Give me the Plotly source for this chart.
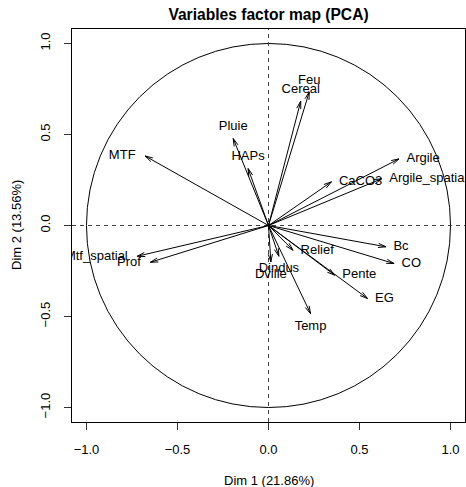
import numpy as np
import plotly.graph_objects as go

# ---------------- data ----------------
variables = ["MTF", "Pluie", "HAPs", "Feu", "Cereal", "CaCO3", "Argile",
             "Argile_spatial", "Bc", "CO", "Relief", "Pente", "EG", "Temp",
             "Dindus", "Dville", "Prof", "Mtf_spatial"]
dim1 = [-0.678, -0.194, -0.112, 0.224, 0.177, 0.346, 0.717,
        0.622, 0.645, 0.690, 0.135, 0.364, 0.544, 0.231,
        0.057, 0.013, -0.649, -0.721]
dim2 = [0.382, 0.478, 0.313, 0.734, 0.683, 0.240, 0.366,
        0.257, -0.117, -0.209, -0.136, -0.273, -0.401, -0.484,
        -0.169, -0.200, -0.202, -0.169]
tick_values = [-1.0, -0.5, 0.0, 0.5, 1.0]
chart_title = "Variables factor map (PCA)"
x_title = "Dim 1 (21.86%)"
y_title = "Dim 2 (13.56%)"

# ---------------- style / layout ----------------
W, H = 466, 487
ML, MR, MT, MB = 72, 1, 29, 65
LIM = 1.0795
ppu = (W - ML - MR) / (2 * LIM)          # pixels per data unit
FONT = "Liberation Sans, Arial, Helvetica, sans-serif"
FS = 13

label_side = {
    "MTF": "left", "Pluie": "top", "HAPs": "top", "Feu": "top", "Cereal": "top",
    "CaCO3": "right", "Argile": "right", "Argile_spatial": "right", "Bc": "right",
    "CO": "right", "Relief": "right", "Pente": "right", "EG": "right",
    "Temp": "bottom", "Dindus": "bottom", "Dville": "bottom",
    "Prof": "left", "Mtf_spatial": "left",
}
side_cfg = {
    "right": ("middle right", 7.5, 0),
    "left": ("middle left", -9.5, 0),
    "top": ("top center", 0, 5.1),
    "bottom": ("bottom center", 0, -6.4),
}

fig = go.Figure()

# arrows (shaft + open head, R style angle 15, length ~8px)
head_len = 8.0 / ppu
head_ang = np.deg2rad(15)
ax_x, ax_y = [], []
for x, y in zip(dim1, dim2):
    th = np.arctan2(y, x)
    ax_x += [0, x, None]
    ax_y += [0, y, None]
    ax_x += [x - head_len * np.cos(th - head_ang), x, x - head_len * np.cos(th + head_ang), None]
    ax_y += [y - head_len * np.sin(th - head_ang), y, y - head_len * np.sin(th + head_ang), None]
fig.add_trace(go.Scatter(x=ax_x, y=ax_y, mode="lines",
                         line=dict(color="black", width=1),
                         hoverinfo="skip", showlegend=False))

# labels
for side, (tpos, dxp, dyp) in side_cfg.items():
    idx = [i for i, v in enumerate(variables) if label_side[v] == side]
    fig.add_trace(go.Scatter(
        x=[dim1[i] + dxp / ppu for i in idx],
        y=[dim2[i] + dyp / ppu for i in idx],
        text=[variables[i] for i in idx],
        mode="text", textposition=tpos,
        textfont=dict(family=FONT, size=FS, color="black"),
        cliponaxis=True, hoverinfo="skip", showlegend=False))

shapes = [
    dict(type="circle", xref="x", yref="y", x0=-1, y0=-1, x1=1, y1=1,
         line=dict(color="black", width=1), layer="below"),
    dict(type="line", xref="x", yref="y", x0=0, x1=0, y0=-LIM, y1=LIM,
         line=dict(color="#404040", width=1, dash="4px,4px"), layer="below"),
    dict(type="line", xref="x", yref="y", x0=-LIM, x1=LIM, y0=0, y1=0,
         line=dict(color="#404040", width=1, dash="4px,4px"), layer="below"),
]

axis_common = dict(
    range=[-LIM, LIM], tickvals=tick_values, tickformat=".1f",
    showgrid=False, zeroline=False, showline=True, mirror=True,
    linecolor="black", linewidth=1, ticks="outside", ticklen=7,
    tickcolor="#333333", tickwidth=1,
    tickfont=dict(family=FONT, size=FS, color="black"),
)

fig.update_layout(
    width=W, height=H,
    margin=dict(l=ML, r=MR, t=MT, b=MB),
    paper_bgcolor="white", plot_bgcolor="white",
    xaxis=dict(**axis_common, ticklabelstandoff=8),
    yaxis=dict(**axis_common, tickangle=-90, ticklabelstandoff=9),
    shapes=shapes,
    title=dict(text="<b>" + chart_title + "</b>", x=0.5, xref="paper",
               y=(H - 15) / H, yref="container", yanchor="middle",
               xanchor="center",
               font=dict(family=FONT, size=15.6, color="black")),
    annotations=[
        dict(text=x_title, xref="paper", yref="paper", x=0.5, y=0,
             yanchor="middle", xanchor="center", yshift=-58, showarrow=False,
             font=dict(family=FONT, size=FS, color="black")),
        dict(text=y_title, xref="paper", yref="paper", x=0, y=0.5,
             xanchor="center", yanchor="middle", xshift=-55.5, textangle=-90,
             showarrow=False, font=dict(family=FONT, size=FS, color="black")),
    ],
)

fig.write_html("out.html")
